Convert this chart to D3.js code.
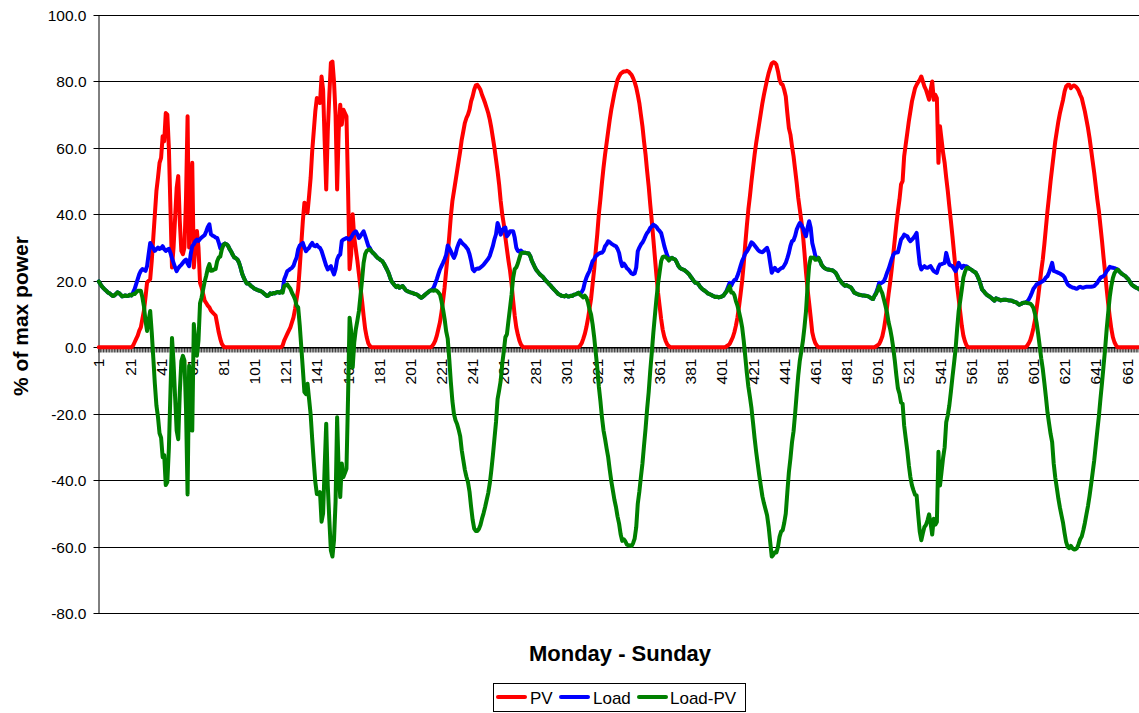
<!DOCTYPE html>
<html>
<head>
<meta charset="utf-8">
<script src="https://cdn.jsdelivr.net/npm/d3@7"></script>
<style>
  html, body { margin: 0; padding: 0; background: #fff; }
  svg { display: block; font-family: "Liberation Sans", Arial, sans-serif; }
</style>
</head>
<body>
<svg id="chart" width="1139" height="713"></svg>
<script>
// Weekly profile in 15-minute steps (96 per day), % of maximum power.
const pvMon = [
  0,0,0,0,0,0,0,0,0,0,
  0,0,0,0,0,0,0,0,0,0,
  0,0,0.5,1.5,2.5,3.5,5,6,8.5,11,
  15,19.5,20,20.5,26,33,40,47,51,55.5,
  57,63.5,62,70.5,70,60,42,24,30,39,
  48,51.5,38,29,28,30,45,69.5,30,45,
  55.5,24,30,35,30,19.4,18,16,14,13.3,
  12.5,12,11,10.5,10,9.5,7,4.5,2.5,1,
  0.3,0,0,0,0,0,0,0,0,0,
  0,0,0,0,0,0
];
const pvTue = [
  0,0,0,0,0,0,0,0,0,0,
  0,0,0,0,0,0,0,0,0,0,
  0,0,0.5,2.0,3.0,4.0,5.0,6.0,7.5,9.0,
  11.5,14.5,17.5,24.0,31.0,38.0,43.5,43.0,40.5,45.5,
  51.0,59.0,65.0,71.0,75.0,74.5,73.5,81.5,77.5,62.0,
  47.5,65.0,76.0,85.6,86.0,80.0,70.0,47.5,65.0,73.0,
  67.0,71.5,70.5,69.5,48.0,23.5,28.0,40.0,33.0,29.5,
  26.0,22.0,18.0,14.0,9.5,5.5,3.0,1.2,0.4,0,
  0,0,0,0,0,0,0,0,0,0,
  0,0,0,0,0,0
];
const pvWed = [
  0,0,0,0,0,0,0,0,0,0,
  0,0,0,0,0,0,0,0,0,0,
  0,0,0.3,1.0,2.0,3.5,5.5,7.5,10.5,14.0,
  18.0,23.0,28.0,33.5,39.4,44.0,47.0,50.0,53.0,56.0,
  59.0,62.5,65.0,67.5,69.0,70.0,71.5,74.0,75.5,77.5,
  78.8,79.0,78.3,77.5,76.0,74.8,73.5,72.0,70.5,68.5,
  66.0,63.0,60.0,56.5,53.0,49.0,44.0,40.0,37.0,33.0,
  29.5,26.0,23.0,19.0,14.0,9.5,6.0,3.8,2.0,0.8,
  0.2,0,0,0,0,0,0,0,0,0,
  0,0,0,0,0,0
];
const pvThu = [
  0,0,0,0,0,0,0,0,0,0,
  0,0,0,0,0,0,0,0,0,0,
  0,0.5,1.2,2.5,4.0,6.0,8.5,11.5,14.5,19.0,
  23.4,29.0,34.0,40.0,44.5,49.5,54.0,58.0,61.5,65.0,
  68.5,71.5,74.0,76.5,78.5,80.5,81.5,82.3,82.7,83.0,
  83.0,83.2,83.0,82.5,82.0,81.0,79.8,78.2,76.0,73.5,
  70.0,66.5,62.0,58.0,53.0,48.5,43.0,38.0,32.5,27.0,
  21.5,16.5,12.5,8.5,5.3,3.2,1.8,0.8,0.3,0,
  0,0,0,0,0,0,0,0,0,0,
  0,0,0,0,0,0
];
const pvFri = [
  0,0,0,0,0,0,0,0,0,0,
  0,0,0,0,0,0,0,0,0,0.3,
  0.6,1.0,2.0,3.0,4.5,6.5,9.0,12.3,16.0,20.0,
  25.0,31.0,36.5,41.5,45.5,50.0,54.0,58.0,61.5,64.5,
  67.5,70.5,73.5,76.0,78.3,80.5,82.5,84.0,85.4,85.8,
  85.6,85.0,83.0,80.5,79.3,79.0,77.5,75.5,70.5,66.0,
  64.0,60.5,57.5,53.5,49.5,45.0,41.5,38.0,34.0,28.5,
  22.5,17.5,13.3,9.0,4.5,2.5,1.2,0.5,0,0,
  0,0,0,0,0,0,0,0,0,0,
  0,0,0,0,0,0
];
const pvSat = [
  0,0,0,0,0,0,0,0,0,0,
  0,0,0,0,0,0,0,0,0,0.3,
  0.6,1.0,2.0,3.3,5.5,8.5,12.0,16.0,19.5,23.5,
  28.0,32.5,37.0,41.0,44.5,49.0,50.0,57.5,61.0,64.5,
  68.0,71.0,74.0,76.0,78.0,79.0,79.8,80.5,81.5,80.0,
  78.5,77.5,76.0,74.5,77.5,80.0,74.5,76.0,75.0,55.5,
  66.5,62.5,58.5,55.5,51.0,47.0,42.4,38.0,33.4,28.5,
  23.5,18.5,14.5,10.5,6.5,3.5,1.8,0.6,0,0,
  0,0,0,0,0,0,0,0,0,0,
  0,0,0,0,0,0
];
const pvSun = [
  0,0,0,0,0,0,0,0,0,0,
  0,0,0,0,0,0,0,0,0,0,
  0.5,1.2,2.2,3.8,5.8,8.2,11.5,15.0,19.0,23.0,
  26.5,31.0,36.0,41.0,45.4,50.0,54.0,58.0,62.0,65.0,
  68.0,70.5,72.5,74.5,77.0,78.5,79.0,79.0,78.0,78.5,
  78.8,78.5,78.0,77.2,76.0,75.0,73.0,71.0,68.5,66.0,
  63.0,59.5,56.0,52.5,48.5,44.5,41.0,36.5,32.0,27.0,
  22.5,17.5,13.0,9.0,5.5,3.0,1.5,0.6,0,0,
  0,0,0,0,0,0,0,0,0,0,
  0,0,0,0,0,0
];

const loadMon = [
  19.8,19.0,18.3,17.8,17.3,16.9,16.4,16.2,15.8,15.4,
  15.6,16.0,16.5,16.3,15.8,15.3,15.4,15.6,15.4,15.5,
  15.8,15.6,16.5,17.5,19.0,20.5,22.0,23.0,23.5,23.3,
  23.0,24.4,28.0,31.4,30.5,29.8,29.0,29.5,30.0,29.6,
  29.8,30.4,29.5,29.0,29.4,29.6,28.4,26.8,25.4,24.0,
  22.9,23.8,24.4,24.8,25.4,26.0,26.4,25.2,24.4,28.0,
  30.4,31.0,31.9,32.4,32.0,32.6,33.0,33.4,33.8,34.9,
  36.2,37.0,34.0,33.6,33.4,33.0,32.9,31.5,29.8,30.5,
  31.0,31.2,31.0,30.5,29.5,28.8,27.8,27.0,26.8,26.4,
  25.5,24.0,22.2,21.0,20.0,19.2
];
const loadTue = [
  19.2,18.8,18.3,18.0,17.6,17.4,17.2,17.0,16.9,16.6,
  16.2,15.8,15.4,15.6,16.2,16.0,16.3,16.2,16.5,16.6,
  16.4,16.8,16.9,20.4,21.6,22.9,23.2,23.6,23.9,24.5,
  25.9,27.0,29.5,30.6,31.0,31.4,30.0,28.9,29.5,29.9,
  30.8,31.4,30.6,30.4,30.8,30.2,29.9,29.0,27.5,26.0,
  24.5,23.4,24.0,24.4,23.0,21.9,23.5,26.4,27.5,27.9,
  32.0,32.4,32.6,32.9,32.6,32.4,33.0,33.9,34.5,34.9,
  34.0,32.9,33.5,34.2,34.9,33.5,32.0,30.5,29.9,28.9,
  28.4,28.0,27.4,26.9,26.6,26.2,25.9,25.2,24.3,23.4,
  22.4,21.0,19.8,19.2,18.6,18.1
];
const loadWed = [
  18.5,17.9,18.2,18.4,17.8,17.2,16.9,16.7,16.5,16.4,
  16.2,16.0,15.9,15.6,15.2,14.9,15.2,15.6,16.0,16.4,
  16.8,17.1,17.4,18.0,19.2,20.5,22.0,23.4,24.4,25.4,
  26.5,27.8,30.6,29.8,28.9,27.8,26.9,28.0,29.9,31.2,
  32.2,31.5,31.0,30.6,30.0,29.4,28.0,26.0,23.5,22.9,
  23.5,23.7,23.6,24.0,24.4,24.8,25.4,26.0,26.6,27.5,
  29.0,30.5,32.5,34.0,37.4,36.0,33.9,35.0,35.8,36.0,
  33.4,34.0,34.9,34.9,34.9,33.0,30.0,29.0,28.8,29.1,
  28.6,28.4,28.4,28.3,28.2,27.4,26.0,25.0,24.0,23.2,
  22.6,22.0,21.6,21.2,20.6,20.0
];
const loadThu = [
  19.6,19.0,18.6,18.0,17.5,17.0,16.5,16.0,15.8,15.5,
  15.4,15.3,15.6,15.3,15.3,15.5,15.4,15.8,15.9,16.1,
  16.4,16.3,16.6,17.5,19.5,20.9,22.0,22.9,24.4,25.9,
  26.5,27.4,27.8,28.2,28.4,28.4,29.0,30.4,31.0,31.9,
  31.6,31.2,30.9,30.6,30.4,29.6,28.4,26.0,24.4,25.2,
  24.6,23.8,23.4,22.8,22.2,22.0,22.2,24.0,28.9,30.0,
  30.9,31.5,32.4,33.5,34.4,35.0,35.9,36.4,36.9,36.6,
  36.2,35.5,35.0,34.4,32.5,30.5,28.9,27.5,26.4,26.7,
  26.9,26.6,26.4,25.6,24.5,23.9,23.6,23.4,23.2,22.8,
  22.4,21.9,21.2,20.6,19.9,19.4
];
const loadFri = [
  19.4,18.9,18.2,17.7,17.3,17.0,16.6,16.2,16.0,15.8,
  15.5,15.3,15.1,15.2,15.0,15.1,15.3,15.5,16.2,17.0,
  18.2,19.4,18.5,19.5,20.2,20.4,21.5,22.9,24.5,26.0,
  27.0,28.2,28.8,29.6,30.5,31.6,31.2,30.6,30.0,29.4,
  28.9,28.7,28.6,29.0,29.5,29.9,28.5,25.4,22.4,23.3,
  23.9,23.2,22.9,23.4,23.8,23.9,24.6,25.4,26.8,28.4,
  30.5,31.9,32.2,33.5,35.4,36.5,37.4,36.8,35.9,34.5,
  33.4,36.0,37.9,36.0,31.4,29.5,27.5,26.9,26.9,26.0,
  24.8,24.2,23.8,23.5,23.4,23.3,23.2,23.2,22.8,22.4,
  21.6,20.6,20.0,19.4,18.9,18.5
];
const loadSat = [
  18.7,18.4,18.2,17.9,17.2,16.4,16.2,16.0,15.8,15.7,
  15.6,15.6,15.5,15.4,15.3,15.0,14.7,14.5,15.5,16.4,
  17.8,19.4,19.2,19.5,19.9,21.0,22.4,23.5,25.0,26.5,
  27.8,28.4,28.5,28.6,30.5,32.4,33.0,33.9,33.6,33.4,
  32.5,31.9,32.4,32.9,33.6,34.4,29.4,25.0,23.4,24.0,
  24.4,24.0,23.9,24.2,24.4,23.6,22.9,22.6,22.4,24.0,
  24.9,25.0,25.2,25.4,28.4,26.5,24.9,24.6,24.4,23.6,
  22.9,24.0,25.4,24.5,23.9,24.5,24.4,24.4,24.0,23.6,
  23.4,23.0,22.7,22.4,21.5,20.4,19.0,17.4,16.9,16.3,
  15.8,15.5,15.2,14.8,14.4,14.0
];
const loadSun = [
  14.7,14.5,14.3,14.1,14.2,14.3,14.3,14.2,14.1,14.1,
  14.0,13.8,13.6,13.5,13.1,12.8,13.0,13.3,13.4,13.5,
  13.8,14.4,15.3,16.4,17.6,18.2,18.9,19.1,19.4,19.6,
  19.9,20.3,21.0,21.4,22.5,23.9,25.4,23.0,22.8,22.6,
  22.4,22.2,21.9,21.6,21.0,19.8,18.9,18.5,18.2,18.0,
  17.9,17.7,17.6,18.0,18.2,18.0,17.9,18.1,18.2,18.2,
  18.2,18.2,18.3,18.4,18.9,19.4,20.2,20.9,21.2,21.4,
  22.0,22.9,23.5,24.2,24.0,23.9,23.8,23.6,23.4,22.9,
  22.4,22.0,21.7,21.4,20.9,20.4,19.6,18.9,18.5,18.2,
  17.9,17.7,17.4,17.2,17.0,16.8
];

const yTicks = [-80, -60, -40, -20, 0, 20, 40, 60, 80, 100];
const xTickLabels = [1, 21, 41, 61, 81, 101, 121, 141, 161, 181, 201, 221, 241, 261, 281,
  301, 321, 341, 361, 381, 401, 421, 441, 461, 481, 501, 521, 541, 561, 581,
  601, 621, 641, 661];
const seriesNames = ["PV", "Load", "Load-PV"];
const seriesColors = ["#FF0000", "#0000FF", "#008000"];
const xTitle = "Monday - Sunday";
const yTitle = "% of max power";

// Assemble the week
const pv = [].concat(pvMon, pvTue, pvWed, pvThu, pvFri, pvSat, pvSun);
const load = [].concat(loadMon, loadTue, loadWed, loadThu, loadFri, loadSat, loadSun);
const net = load.map((v, k) => +(v - pv[k]).toFixed(2));
const slots = pv.map((_, k) => k + 1);

const svg = d3.select("#chart");
const W = 1139, H = 713;
const plotLeft = 98, plotTop = 15, plotBottom = 613;
const catW = 1.5578;

const x = d3.scaleBand().domain(slots).range([plotLeft, plotLeft + slots.length * catW]).padding(0);
const y = d3.scaleLinear().domain([-80, 100]).range([plotBottom, plotTop]);
const cx = i => x(i) + x.bandwidth() / 2;
const crisp = v => Math.round(v) + 0.5;

svg.append("rect").attr("width", W).attr("height", H).attr("fill", "#fff");

// Horizontal gridlines
svg.append("g").selectAll("line").data(yTicks).join("line")
  .attr("x1", plotLeft).attr("x2", W)
  .attr("y1", d => crisp(y(d))).attr("y2", d => crisp(y(d)))
  .attr("stroke", "#000").attr("stroke-width", 1);

// Value axis
const yAxis = svg.append("g")
  .attr("transform", `translate(${plotLeft + 0.5},0)`)
  .call(d3.axisLeft(y).tickValues(yTicks).tickFormat(d => d.toFixed(1)).tickSize(5).tickSizeOuter(0))
  .call(g => g.select(".domain").attr("stroke", "#000"));
yAxis.selectAll(".tick").attr("transform", d => `translate(0,${crisp(y(d))})`);
yAxis.selectAll(".tick line").attr("stroke", "#000");
yAxis.selectAll(".tick text")
  .attr("x", -12)
  .attr("dy", "0.36em")
  .attr("font-size", 15.5)
  .attr("font-family", "'Liberation Sans', Arial, sans-serif")
  .attr("fill", "#000");

// Category axis along zero, a tick for every slot
const y0 = crisp(y(0));
const xAxis = svg.append("g")
  .attr("transform", `translate(0,${y0})`)
  .call(d3.axisBottom(x).tickValues(slots).tickSize(5).tickSizeOuter(0).tickFormat(""))
  .call(g => g.select(".domain").attr("stroke", "#000"));
xAxis.selectAll(".tick line").attr("stroke", "#000").attr("stroke-width", 0.8);

// Category labels, every 20th slot, rotated
svg.append("g").selectAll("text").data(xTickLabels).join("text")
  .attr("transform", d => `translate(${cx(d)},${y0 + 11}) rotate(-90)`)
  .attr("text-anchor", "end")
  .attr("dy", "0.36em")
  .attr("font-size", 15.5)
  .attr("fill", "#000")
  .text(d => d);

// Series lines
const lineGen = d3.line().x((d, k) => cx(k + 1)).y(d => y(d));
[pv, load, net].forEach((vals, s) => {
  svg.append("path")
    .datum(vals)
    .attr("d", lineGen)
    .attr("fill", "none")
    .attr("stroke", seriesColors[s])
    .attr("stroke-width", 4)
    .attr("stroke-linejoin", "round")
    .attr("stroke-linecap", "round");
});

// Axis titles
svg.append("text")
  .attr("x", 620).attr("y", 661)
  .attr("text-anchor", "middle")
  .attr("font-size", 22).attr("font-weight", "bold")
  .attr("fill", "#000")
  .text(xTitle);

svg.append("text")
  .attr("transform", "translate(28,316) rotate(-90)")
  .attr("text-anchor", "middle")
  .attr("font-size", 21).attr("font-weight", "bold")
  .attr("fill", "#000")
  .text(yTitle);

// Legend
const lg = svg.append("g");
lg.append("rect")
  .attr("x", 493.5).attr("y", 683.5).attr("width", 252).attr("height", 28)
  .attr("fill", "#fff").attr("stroke", "#000").attr("stroke-width", 1);
const legendItems = [
  { x1: 498, x2: 525, tx: 530 },
  { x1: 561, x2: 588, tx: 593 },
  { x1: 639, x2: 666, tx: 670 }
];
legendItems.forEach((it, s) => {
  lg.append("line")
    .attr("x1", it.x1).attr("x2", it.x2).attr("y1", 697).attr("y2", 697)
    .attr("stroke", seriesColors[s]).attr("stroke-width", 4).attr("stroke-linecap", "round");
  lg.append("text")
    .attr("x", it.tx).attr("y", 704)
    .attr("font-size", 17).attr("fill", "#000")
    .text(seriesNames[s]);
});
</script>
</body>
</html>
